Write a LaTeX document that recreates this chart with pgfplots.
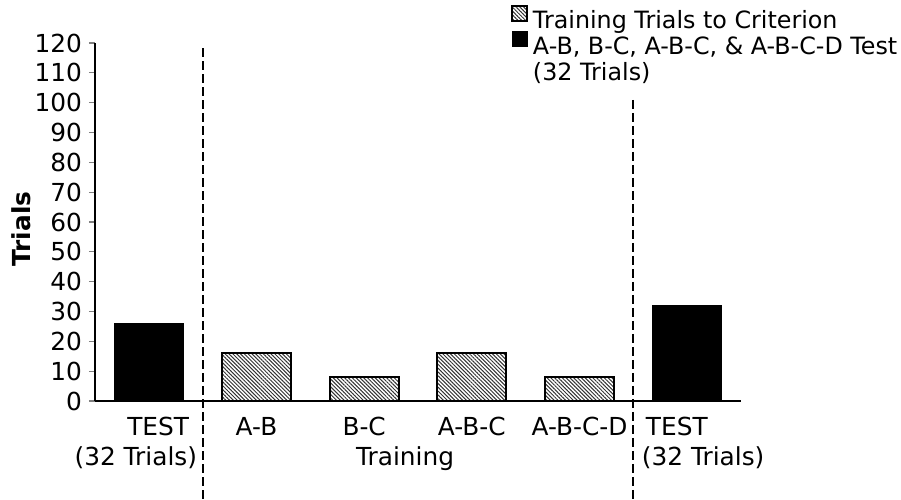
\documentclass[border=0pt]{standalone}
\usepackage{pgfplots}
\pgfplotsset{compat=1.18}
\usepackage{fontspec}
\setmainfont{DejaVu Sans}
\usetikzlibrary{patterns.meta}

% data
\pgfplotstableread{
x y
0 26
5 32
}\testdata
\pgfplotstableread{
x y
1 16
2 8
3 16
4 8
}\traindata

\begin{document}
\begin{tikzpicture}
% page = 901x499 px at 0.5pt per px, axis box lower left at the origin
\useasboundingbox (-47.5pt,-49pt) rectangle (403pt,200.5pt);
\begin{axis}[
    at={(0pt,0pt)}, anchor=south west,
    scale only axis,
    width=323pt, height=179pt,
    xmin=-0.5, xmax=5.5,
    ymin=0, ymax=120,
    ybar, bar width=34.5pt,
    axis x line*=bottom, axis y line*=left,
    axis line style={-, line width=0.8pt},
    tick align=outside,
    ytick={0,10,...,120},
    xtick={0,1,2,3,4,5},
    xtick style={draw=none},
    ytick style={line width=0.6pt},
    major tick length=3pt,
    xticklabels={
      {\begin{tabular}[t]{@{}r@{}}TEST\hspace*{4pt}\\(32 Trials)\end{tabular}\hspace*{13pt}},
      A-B, B-C, A-B-C, A-B-C-D,
      {\hspace*{16pt}\begin{tabular}[t]{@{}l@{}}\hspace*{2pt}TEST\\(32 Trials)\end{tabular}}},
    xticklabel style={anchor=base, yshift=-14pt},
    /pgf/number format/assume math mode=true,
    tick label style={font=\fontsize{12.4}{15}\selectfont},
    ylabel={Trials},
    ylabel style={font=\fontsize{12.4}{15}\selectfont\bfseries,
                  at={(axis description cs:-0.1146,0.48)}, anchor=center},
    clip=false,
    legend image code/.code={\draw[#1] (0pt,0pt) rectangle (7.5pt,7.5pt);},
    legend style={at={(axis cs:3.36,133)}, anchor=north west, draw=none,
                  inner sep=0pt, fill=none,
                  font=\fontsize{11.9}{13}\selectfont,
                  cells={anchor=base west},
                  nodes={inner xsep=2.5pt, inner ysep=1pt},
                  row sep=-1pt},
    legend cell align=left,
    reverse legend,
]
\addplot[draw=black, fill=black, bar shift=0pt] table {\testdata};
\addlegendentry{\begin{tabular}[t]{@{}l@{}}A-B, B-C, A-B-C, \& A-B-C-D Test\\(32 Trials)\end{tabular}}
\addplot[draw=black, line width=1pt, bar shift=0pt,
         pattern={Lines[angle=-45, distance=1.35pt, line width=0.5pt]},
         pattern color=black!80] table {\traindata};
\addlegendentry{Training Trials to Criterion}

\draw[dash pattern=on 4.5pt off 2pt, line width=1pt] (axis cs:0.5,118.3) -- (axis cs:0.5,-32.8);
\draw[dash pattern=on 4.5pt off 2pt, line width=1pt] (axis cs:4.5,100.9) -- (axis cs:4.5,-32.8);
\node[anchor=base, font=\fontsize{12.4}{15}\selectfont] at (axis cs:2.38,0) [yshift=-32pt] {Training};
\end{axis}
\end{tikzpicture}
\end{document}
